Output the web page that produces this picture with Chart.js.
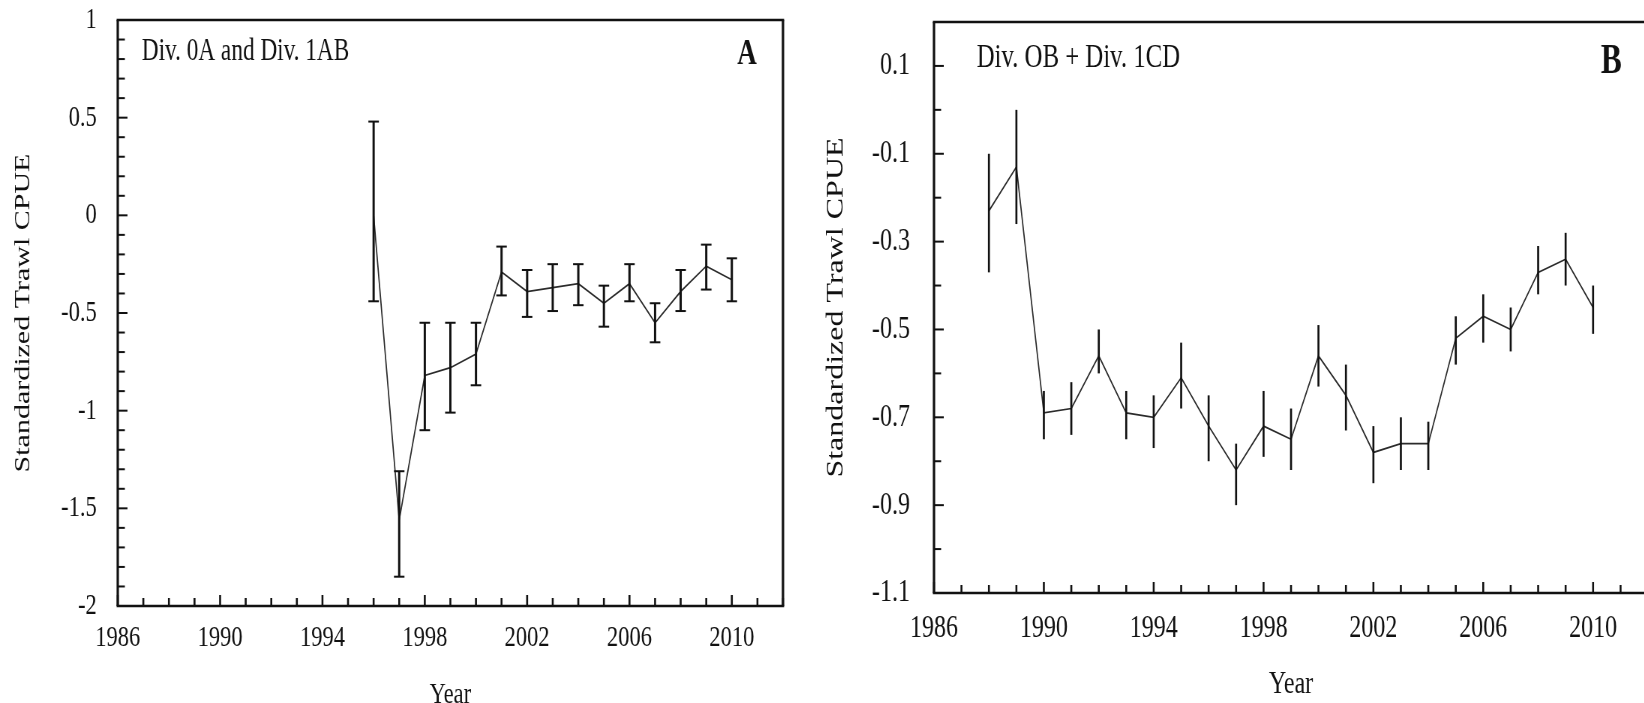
<!DOCTYPE html>
<html>
<head>
<meta charset="utf-8">
<script src="https://cdn.jsdelivr.net/npm/chart.js@4.4.1/dist/chart.umd.min.js"></script>
<style>
    html, body { margin: 0; padding: 0; background: #fff; overflow: hidden; width: 1644px; height: 703px; }
    /* the source figure is squeezed horizontally, so the canvases are too */
    canvas { position: absolute; top: 0; transform-origin: 0 0; transform: scaleX(0.75); }
    #chartA { left: 0; }
    #chartB { left: 790px; }
</style>
</head>
<body>
<canvas id="chartA" width="1053" height="720"></canvas>
<canvas id="chartB" width="1160" height="720"></canvas>
<script>
// Panel A - Div. 0A and Div. 1AB
const yearsA = [1996, 1997, 1998, 1999, 2000, 2001, 2002, 2003, 2004, 2005, 2006, 2007, 2008, 2009, 2010];
const cpueA = [0.00, -1.56, -0.82, -0.78, -0.71, -0.29, -0.39, -0.37, -0.35, -0.45, -0.35, -0.55, -0.39, -0.26, -0.33];
const highA = [0.48, -1.31, -0.55, -0.55, -0.55, -0.16, -0.28, -0.25, -0.25, -0.36, -0.25, -0.45, -0.28, -0.15, -0.22];
const lowA = [-0.44, -1.85, -1.10, -1.01, -0.87, -0.41, -0.52, -0.49, -0.46, -0.57, -0.44, -0.65, -0.49, -0.38, -0.44];

// Panel B - Div. 0B + Div. 1CD
const yearsB = [1988, 1989, 1990, 1991, 1992, 1993, 1994, 1995, 1996, 1997, 1998, 1999,
    2000, 2001, 2002, 2003, 2004, 2005, 2006, 2007, 2008, 2009, 2010];
const cpueB = [-0.23, -0.13, -0.69, -0.68, -0.56, -0.69, -0.70, -0.61, -0.72, -0.82, -0.72, -0.75,
    -0.56, -0.65, -0.78, -0.76, -0.76, -0.52, -0.47, -0.50, -0.37, -0.34, -0.45];
const highB = [-0.10, 0.00, -0.64, -0.62, -0.50, -0.64, -0.65, -0.53, -0.65, -0.76, -0.64, -0.68,
    -0.49, -0.58, -0.72, -0.70, -0.71, -0.47, -0.42, -0.45, -0.31, -0.28, -0.40];
const lowB = [-0.37, -0.26, -0.75, -0.74, -0.60, -0.75, -0.77, -0.68, -0.80, -0.90, -0.79, -0.82,
    -0.63, -0.73, -0.85, -0.82, -0.82, -0.58, -0.53, -0.55, -0.42, -0.40, -0.51];

const yearTicks = [1986, 1990, 1994, 1998, 2002, 2006, 2010];
const yTicksA = [-2, -1.5, -1, -0.5, 0, 0.5, 1];
const yTicksB = [-1.1, -0.9, -0.7, -0.5, -0.3, -0.1, 0.1];

const FONT = '"Liberation Serif", "Times New Roman", serif';
const INK = '#111';

function drawLine(ctx, x1, y1, x2, y2) {
    ctx.beginPath();
    ctx.moveTo(x1, y1);
    ctx.lineTo(x2, y2);
    ctx.stroke();
}

function isTick(list, v) {
    return list.some(m => Math.abs(m - v) < 1e-6);
}

function makeErrorBars(years, low, high, s) {
    return {
        id: 'errorBars',
        afterDatasetsDraw: function (chart) {
            const ctx = chart.ctx, xs = chart.scales.x, ys = chart.scales.y;
            ctx.save();
            ctx.strokeStyle = INK;
            years.forEach(function (yr, i) {
                const px = xs.getPixelForValue(yr);
                const top = ys.getPixelForValue(high[i]);
                const bot = ys.getPixelForValue(low[i]);
                ctx.lineWidth = s.barWidth;
                drawLine(ctx, px, top, px, bot);
                if (s.cap > 0) {
                    ctx.lineWidth = 2;
                    drawLine(ctx, px - s.cap, top, px + s.cap, top);
                    drawLine(ctx, px - s.cap, bot, px + s.cap, bot);
                }
            });
            ctx.restore();
        }
    };
}

// box, inward tick marks and the panel captions
function makeFrame(s) {
    return {
        id: 'frame',
        afterDraw: function (chart) {
            const ctx = chart.ctx, a = chart.chartArea, xs = chart.scales.x, ys = chart.scales.y;
            ctx.save();
            ctx.strokeStyle = INK;

            ctx.lineWidth = 2.6;
            xs.ticks.forEach(function (t) {
                const px = xs.getPixelForValue(t.value);
                const len = isTick(yearTicks, t.value) ? s.xMajor : s.xMinor;
                drawLine(ctx, px, a.bottom, px, a.bottom - len);
            });
            ctx.lineWidth = 2;
            ys.ticks.forEach(function (t) {
                const py = ys.getPixelForValue(t.value);
                const len = isTick(s.yMajorList, t.value) ? s.yMajor : s.yMinor;
                drawLine(ctx, a.left, py, a.left + len, py);
            });

            ctx.lineWidth = 2.4;
            drawLine(ctx, a.left - 1.5, a.top, a.right + 1.5, a.top);
            drawLine(ctx, a.left - 1.5, a.bottom, a.right + 1.5, a.bottom);
            ctx.lineWidth = 3.2;
            drawLine(ctx, a.left, a.top, a.left, a.bottom);
            drawLine(ctx, a.right, a.top, a.right, a.bottom);

            ctx.fillStyle = INK;
            ctx.textBaseline = 'middle';
            ctx.textAlign = 'left';
            ctx.font = s.captionSize + 'px ' + FONT;
            ctx.fillText(s.caption, a.left + s.captionDx, a.top + s.captionDy);
            ctx.textAlign = 'right';
            ctx.font = 'bold ' + s.letterSize + 'px ' + FONT;
            ctx.fillText(s.letter, a.right - s.letterDx, a.top + s.letterDy);
            ctx.restore();
        }
    };
}

function buildChart(id, years, cpue, low, high, s) {
    const ctx = document.getElementById(id).getContext('2d');
    const points = years.map((yr, i) => ({ x: yr, y: cpue[i] }));

    return new Chart(ctx, {
        type: 'line',
        data: {
            datasets: [{
                data: points,
                borderColor: '#2b2b2b',
                borderWidth: 1.7,
                pointRadius: 0,
                tension: 0,
                fill: false
            }]
        },
        options: {
            responsive: false,
            animation: false,
            layout: { padding: { top: s.top, right: s.right, bottom: 0, left: 0 } },
            plugins: {
                legend: { display: false },
                tooltip: { enabled: false }
            },
            scales: {
                x: {
                    type: 'linear',
                    min: 1986,
                    max: 2012,
                    afterFit: function (scale) {
                        scale.height = s.xHeight;
                        scale.paddingLeft = 0;
                        scale.paddingRight = 0;
                    },
                    grid: { display: false, drawTicks: false },
                    border: { display: false },
                    ticks: {
                        stepSize: 1,
                        autoSkip: false,
                        maxRotation: 0,
                        padding: s.xPad,
                        color: INK,
                        font: { family: FONT, size: s.fontSize },
                        callback: function (v) { return isTick(yearTicks, v) ? String(v) : ''; }
                    },
                    title: {
                        display: true,
                        text: 'Year',
                        color: INK,
                        font: { family: FONT, size: s.fontSize },
                        padding: { top: 0, bottom: s.xTitlePad }
                    }
                },
                y: {
                    type: 'linear',
                    min: s.yMin,
                    max: s.yMax,
                    afterFit: function (scale) {
                        scale.width = s.yWidth;
                        scale.paddingTop = 0;
                        scale.paddingBottom = 0;
                    },
                    grid: { display: false, drawTicks: false },
                    border: { display: false },
                    ticks: {
                        stepSize: 0.1,
                        autoSkip: false,
                        padding: s.yPad,
                        color: INK,
                        font: { family: FONT, size: s.fontSize },
                        callback: function (v) {
                            return isTick(s.yMajorList, v) ? String(Math.round(v * 10) / 10) : '';
                        }
                    },
                    title: {
                        display: true,
                        text: 'Standardized Trawl CPUE',
                        color: INK,
                        font: { family: FONT, size: s.fontSize },
                        padding: { top: s.yTitlePad, bottom: 0 }
                    }
                }
            }
        },
        plugins: [makeErrorBars(years, low, high, s), makeFrame(s)]
    });
}

buildChart('chartA', yearsA, cpueA, lowA, highA, {
    top: 20, right: 9, xHeight: 114, yWidth: 157,
    yMin: -2, yMax: 1, yMajorList: yTicksA,
    fontSize: 30, xPad: 14, xTitlePad: 7, yPad: 28, yTitlePad: 13,
    xMajor: 11, xMinor: 8, yMajor: 13, yMinor: 9.5,
    barWidth: 3, cap: 7,
    caption: 'Div. 0A and Div. 1AB', captionSize: 31, captionDx: 32, captionDy: 32,
    letter: 'A', letterSize: 36, letterDx: 35, letterDy: 35
});

buildChart('chartB', yearsB, cpueB, lowB, highB, {
    top: 22, right: 16, xHeight: 127, yWidth: 192,
    yMin: -1.1, yMax: 0.2, yMajorList: yTicksB,
    fontSize: 32, xPad: 16, xTitlePad: 16, yPad: 32, yTitlePad: 42,
    xMajor: 11, xMinor: 8, yMajor: 13, yMinor: 9.5,
    barWidth: 2.7, cap: 0,
    caption: 'Div. OB + Div. 1CD', captionSize: 33, captionDx: 57, captionDy: 36,
    letter: 'B', letterSize: 42, letterDx: 35, letterDy: 40
});
</script>
</body>
</html>
